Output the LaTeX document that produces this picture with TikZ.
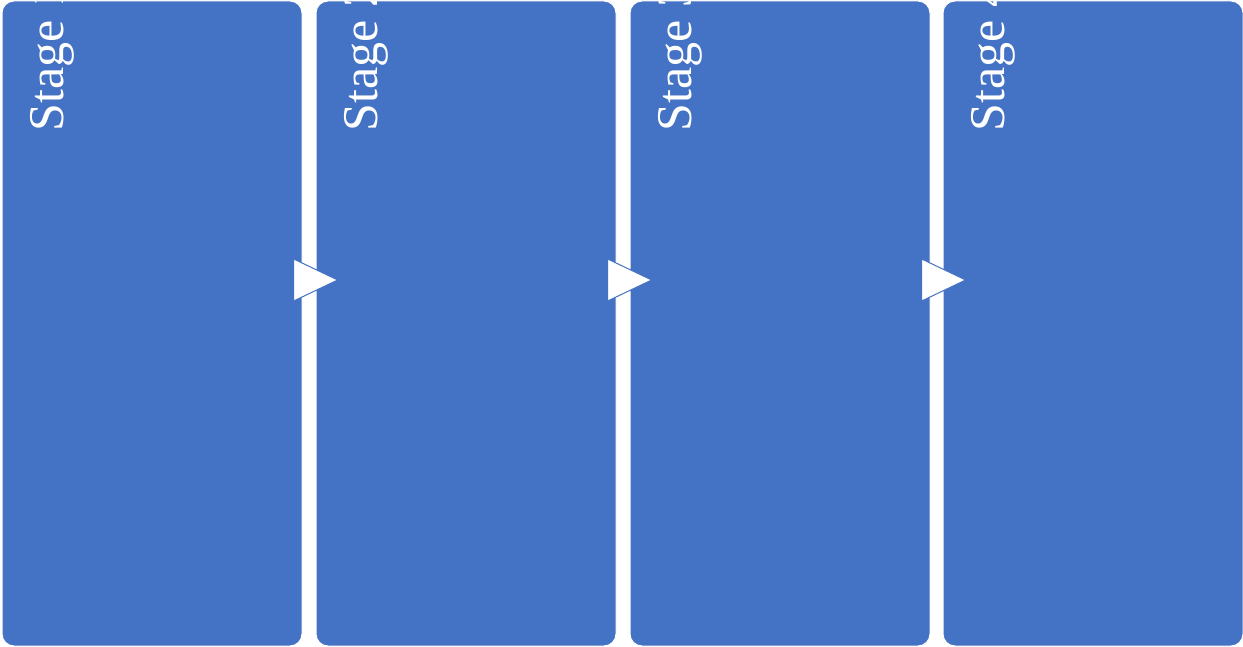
\documentclass[tikz,border=0pt]{standalone}
\usepackage{fontspec}
\setmainfont{Liberation Serif}
\usetikzlibrary{shapes.geometric,positioning}
\colorlet{background}{white}
\definecolor{stageBlue}{HTML}{4472C4}
\tikzset{
  stagebox/.style={draw=white,line width=1pt,fill=stageBlue,rounded corners=12pt,
    minimum width=300pt,minimum height=645pt,inner sep=0pt},
  stagelabel/.style={text=white,rotate=90,anchor=base west,inner sep=0pt,
    font=\fontsize{50}{60}\selectfont},
  steparrow/.style={isosceles triangle,isosceles triangle stretches,draw=stageBlue,
    line width=1pt,fill=white,minimum width=42pt,minimum height=44pt,inner sep=0pt,anchor=apex}
}

\begin{document}
\begin{tikzpicture}[x=1pt,y=-1pt]
      \useasboundingbox (0,0) rectangle (1243,647);
      \fill[background] (0,0) rectangle (1243,647);
      % the four stages
      \node[stagebox] (s1) at (152,323.5) {};
      \node[stagebox] (s2) at (466,323.5) {};
      \node[stagebox] (s3) at (780,323.5) {};
      \node[stagebox] (s4) at (1093,323.5) {};
      % labels, cut off by the top of each box
      \foreach \i in {1,...,4}{
        \begin{scope}
          \clip[rounded corners=12pt] (s\i.south west) rectangle (s\i.north east);
          \node[stagelabel] (lab\i) at ([xshift=-239pt,yshift=-131pt]s\i.north east) {Stage \i};
        \end{scope}
      }
      % arrows between stages
      \node[steparrow] (arr1) at (339,280) {};
      \node[steparrow] (arr2) at (653,280) {};
      \node[steparrow] (arr3) at (967,280) {};
    \end{tikzpicture}
\end{document}
